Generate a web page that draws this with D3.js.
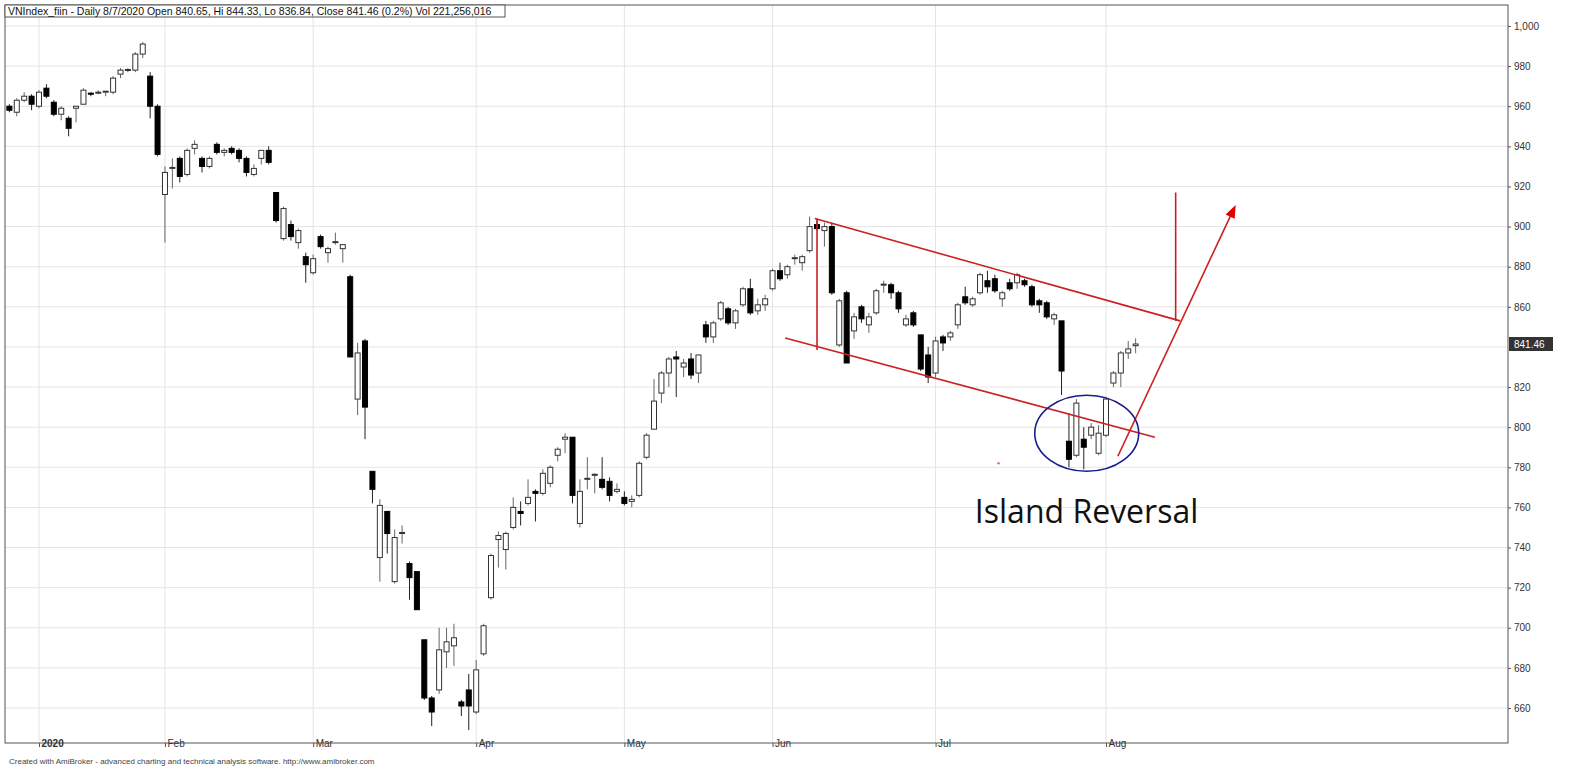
<!DOCTYPE html>
<html>
<head>
<meta charset="utf-8">
<script src="https://cdn.jsdelivr.net/npm/d3@7"></script>
<style>
body { margin: 0; background: #fff; }
text { font-family: "Liberation Sans", Arial, sans-serif; }
</style>
</head>
<body>
<script>
const w = 1572;
const h = 774;

// OHLC, one entry per trading day (late Dec 2019 .. 7 Aug 2020)
const open = [960,957,963,965,960,969,962,956,954,959,961,966.5,967,967,967,976,978,978,986,975,
  960,916,929,934,926,939,934,930,941,937,939,938,934,926,934,938,917,894,901,892,
  885,877,895,887,892,889,875,814,843,778,735,758,723,747,732,728,694,665,669,688,
  691,663,669,658,687,715,744,739,750,758,762,768,767,772,786,794,795,752,774,776,
  774,773,768,765,763,766,785,799,817,827,835,830,834,827,851,845,854,859,852,861,
  869,858,861,869,878,876,884,882,888,901,898,900,841,867,848,860,851,857,871,871,
  867,851,857,846,836,827,845,845,851,865,861,867,873,874,864,872,872,873,870,863,
  862,854,853,793,786,794,796,787,796,822,827,837,840.65];
const high = [961,964,967,966,968,971,963,960,955,960,969,967,968,967.5,975,979,979,987,992,977,
  961,930,934,935,939,943,935,935,942,939,940,939,935,931,938,940,917,910,903,899,
  887,886,896,890,897,891,876,842,844,778,764,758,749,751,733,728,694,666,700,700,
  702,664,677,684,702,737,748,748,765,763,774,769,779,781,790,797,795,774,785,777,
  785,775,772,768,766,783,797,824,828,835,838,834,837,836,853,853,863,860,859,870,
  874,864,866,879,882,881,886,886,905,903,902,902,864,868,857,861,857,869,873,872,
  868,856,858,846,840,845,846,848,862,870,865,877,878,876,868,874,877,874,871,864,
  863,857,853,807,814,800,802,801,815,828,838,843,844.33];
const low = [957,955,962,958,959,964,955,953,945,952,961,965,966,965,966,974,977,977,984,954,
  935,892,919,922,925,936,927,929,936,935,936,932,925,925,931,931,902,893,893,889,
  872,876,889,882,891,882,835,806,794,762,723,737,722,742,714,709,664,651,667,680,
  681,656,649,657,686,714,730,729,749,751,761,753,766,770,783,787,762,750,769,767,
  769,763,767,761,760,765,784,799,812,820,815,825,824,822,842,842,853,851,849,860,
  856,856,858,868,873,874,881,878,887,898,890,866,840,832,844,852,847,856,867,864,
  857,850,850,828,822,825,838,843,849,861,860,866,867,867,860,868,869,870,860,857,
  854,851,816,780,785,779,794,786,795,820,820,834,836.84];
const close = [958,963,965,961,967,965,956,959,949,960,968,966,967,967.5,974,978,978.3,986,991,960,
  936,927,929.5,925,938,941,930,934,937,938,937,934,927,929,938,932,903,909,895,898,
  881,884,890,889,892.5,891,835,837,810,769,761,747,745,747.5,725,709,665,658,689,693,
  695,661,661,679,701,736,746,747,760,757,765,767,777,780,789,795,766,768,774.5,776.5,
  770,766,769,762,764,782,796,813,827,834,834,832,826,836,845,852,862,852,858,869,
  857,861,864,878,874,880,884.5,885,900,899,900,867,863,832,855,854,855,868,871.3,867,
  859,854,851,829,825,843,842,847,861,862,864,876,870,868,867,869,876,871,861,861,
  855,856,828,784,812,790,800,797,814,827,837,839,841.46];

const monthLabels = ["2020", "Feb", "Mar", "Apr", "May", "Jun", "Jul", "Aug"];
const monthIdx = [4, 21, 41, 63, 83, 103, 125, 148];
const priceTicks = d3.range(660, 1001, 20);

const svg = d3.select("body").append("svg")
    .attr("width", w)
    .attr("height", h);

const pLeft = 5, pRight = 1508, pTop = 5, pBottom = 743;

const x = d3.scaleLinear().domain([4, 148]).range([39, 1106]);
const y = d3.scaleLinear().domain([660, 1000]).range([708, 26]);
const last = close[close.length - 1];

// grid
svg.append("g").selectAll("line").data(priceTicks).join("line")
    .attr("x1", pLeft).attr("x2", pRight)
    .attr("y1", d => y(d)).attr("y2", d => y(d))
    .attr("stroke", "#e4e4e4");
svg.append("g").selectAll("line").data(monthIdx).join("line")
    .attr("x1", d => x(d)).attr("x2", d => x(d))
    .attr("y1", pTop).attr("y2", pBottom)
    .attr("stroke", "#e4e4e4");

// frame
svg.append("rect")
    .attr("x", pLeft).attr("y", pTop)
    .attr("width", pRight - pLeft).attr("height", pBottom - pTop)
    .attr("fill", "none").attr("stroke", "#555");

// right axis (the label hidden under the last-price box is left out)
const yAxis = d3.axisRight(y).tickValues(priceTicks.filter(d => Math.abs(d - last) > 6))
    .tickSize(3).tickFormat(d3.format(","));
const ya = svg.append("g").attr("transform", "translate(" + pRight + ",0)").call(yAxis);
ya.select(".domain").remove();
ya.selectAll("text").attr("font-size", 10).attr("fill", "#333").attr("x", 6)
    .attr("font-family", "Liberation Sans, Arial");
ya.selectAll("line").attr("stroke", "#555");

// bottom axis
const xa = svg.append("g").attr("transform", "translate(0," + pBottom + ")")
    .call(d3.axisBottom(x).tickValues(monthIdx).tickSize(4).tickFormat((d, i) => monthLabels[i]));
xa.select(".domain").remove();
xa.selectAll("text").attr("text-anchor", "start").attr("dx", 2).attr("dy", -3)
    .attr("font-size", 10).attr("fill", "#333").attr("font-family", "Liberation Sans, Arial")
    .attr("font-weight", (d, i) => i === 0 ? "bold" : "normal");
xa.selectAll("line").attr("stroke", "#555");

// candles
const idx = d3.range(open.length);
const bw = 5;
const candles = svg.append("g");
candles.selectAll("line").data(idx).join("line")
    .attr("x1", i => x(i)).attr("x2", i => x(i))
    .attr("y1", i => y(high[i])).attr("y2", i => y(low[i]))
    .attr("stroke", i => close[i] >= open[i] ? "#666" : "#222")
    .attr("stroke-width", 1);
candles.selectAll("rect").data(idx).join("rect")
    .attr("x", i => x(i) - bw / 2)
    .attr("y", i => y(Math.max(open[i], close[i])))
    .attr("width", bw)
    .attr("height", i => Math.max(1, Math.abs(y(open[i]) - y(close[i]))))
    .attr("fill", i => close[i] >= open[i] ? "#fff" : "#000")
    .attr("stroke", i => close[i] >= open[i] ? "#333" : "#000")
    .attr("stroke-width", 1);

// annotations
const red = "#cc2020";
const ann = svg.append("g").attr("stroke", red).attr("stroke-width", 1.6).attr("fill", "none");
ann.append("line").attr("x1", x(108.7)).attr("y1", y(904)).attr("x2", x(158)).attr("y2", y(853));
ann.append("line").attr("x1", x(104.7)).attr("y1", y(844.5)).attr("x2", x(154.6)).attr("y2", y(795));
ann.append("line").attr("x1", x(109)).attr("y1", y(904)).attr("x2", x(109)).attr("y2", y(838.5));
ann.append("line").attr("x1", x(157.4)).attr("y1", y(917)).attr("x2", x(157.4)).attr("y2", y(853));
ann.append("line").attr("x1", x(149.6)).attr("y1", y(785.5)).attr("x2", x(165.2)).attr("y2", y(908.5));

// arrow head
const ax = x(165.5), ay = y(910.8);
const ang = Math.atan2(ay - y(785.5), ax - x(149.6));
const hl = 13, hw = 5;
const bx = ax - hl * Math.cos(ang), by = ay - hl * Math.sin(ang);
svg.append("path")
    .attr("d", "M" + ax + "," + ay +
        "L" + (bx + hw * Math.sin(ang)) + "," + (by - hw * Math.cos(ang)) +
        "L" + (bx - hw * Math.sin(ang)) + "," + (by + hw * Math.cos(ang)) + "Z")
    .attr("fill", "#e00000");

svg.append("ellipse")
    .attr("cx", x(145.4)).attr("cy", y(797))
    .attr("rx", 52).attr("ry", 38)
    .attr("fill", "none").attr("stroke", "#1a1a8a").attr("stroke-width", 1.6);

svg.append("circle").attr("cx", x(133.5)).attr("cy", y(782)).attr("r", 1.3).attr("fill", "#e070a0");

svg.append("text")
    .attr("x", x(130.3)).attr("y", 523)
    .attr("font-size", 32)
    .style("font-family", "'Open Sans', 'Noto Sans', sans-serif")
    .attr("fill", "#111")
    .text("Island Reversal");

// last price label
svg.append("rect").attr("x", pRight + 1).attr("y", y(last) - 7).attr("width", 44).attr("height", 14).attr("fill", "#333");
svg.append("text").attr("x", pRight + 6).attr("y", y(last) + 4).attr("font-size", 10).attr("fill", "#fff")
    .text(d3.format(".2f")(last));

// header
svg.append("rect").attr("x", pLeft).attr("y", pTop).attr("width", 500).attr("height", 12).attr("fill", "#fff").attr("stroke", "#555");
svg.append("text").attr("x", 8).attr("y", 14.5).attr("font-size", 10.5).attr("fill", "#111")
    .text("VNIndex_fiin - Daily 8/7/2020 Open 840.65, Hi 844.33, Lo 836.84, Close 841.46 (0.2%) Vol 221,256,016");

// footer
svg.append("text").attr("x", 9).attr("y", 764).attr("font-size", 8).attr("fill", "#444")
    .text("Created with AmiBroker - advanced charting and technical analysis software. http://www.amibroker.com");
</script>
</body>
</html>
